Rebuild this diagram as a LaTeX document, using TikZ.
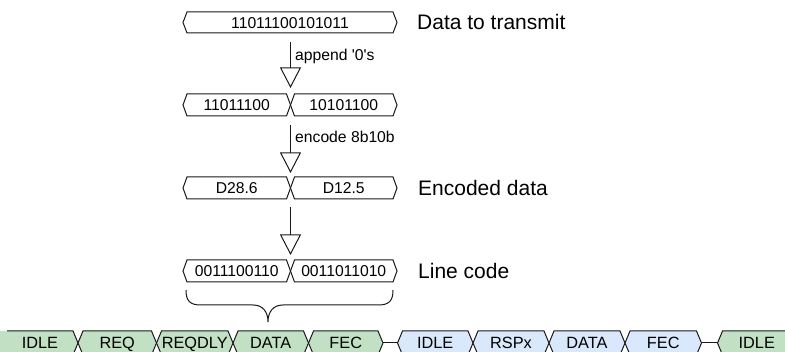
\documentclass[tikz,border=0pt]{standalone}
\usepackage{fontspec}
\setmainfont{Liberation Sans}[Ligatures=TeXOff]
\usetikzlibrary{arrows.meta}
\definecolor{grn}{RGB}{194,224,195}
\definecolor{blu}{RGB}{218,232,252}
\definecolor{ink}{RGB}{25,25,25}
\tikzset{
  boxtext/.style={font=\fontsize{15.7}{18}\selectfont, text height=11.2pt, text depth=0pt, inner sep=0pt, text=black},
  wavetext/.style={font=\fontsize{16.3}{19}\selectfont, text height=11.7pt, text depth=0pt, inner sep=0pt, text=black},
  lbl/.style={font=\fontsize{21}{24}\selectfont, text height=15pt, text depth=0pt, inner sep=0pt, text=black, anchor=west},
  note/.style={font=\fontsize{15.7}{18}\selectfont, inner sep=0pt, text=black, anchor=base west},
  outline/.style={draw=ink, line width=1pt, line join=miter},
  flow/.style={draw=ink, line width=1pt, -{Triangle[open, length=20.5pt, width=21pt]}},
}
% name, x1, x2, yc, half height, slant, fill, style, text
\newcommand\mychev[9]{%
  \filldraw[outline, fill=#7] (#2,#4) -- ({#2+#6},{#4-#5}) -- ({#3-#6},{#4-#5}) -- (#3,#4) -- ({#3-#6},{#4+#5}) -- ({#2+#6},{#4+#5}) -- cycle;
  \coordinate (#1-w) at (#2,#4);
  \coordinate (#1-e) at (#3,#4);
  \node[#8] (#1) at ({(#2+#3)/2},#4) {#9};
}
\begin{document}
\begin{tikzpicture}[x=1pt, y=-1pt]
\useasboundingbox (0,0) rectangle (785,352);
\clip (0,0) rectangle (785,352);

% upper rows
\mychev{r1}{183}{397}{22.5}{10.5}{4}{white}{boxtext}{11011100101011}
\mychev{r2a}{183}{290.5}{105}{11}{4}{white}{boxtext}{11011100}
\mychev{r2b}{290.5}{397}{105}{11}{4}{white}{boxtext}{10101100}
\mychev{r3a}{183}{290.5}{188}{11}{4}{white}{boxtext}{D28.6}
\mychev{r3b}{290.5}{397}{188}{11}{4}{white}{boxtext}{D12.5}
\mychev{r4a}{183}{290.5}{271}{11}{4}{white}{boxtext}{0011100110}
\mychev{r4b}{290.5}{397}{271}{11}{4}{white}{boxtext}{0011011010}

% labels
\node[lbl] (l1) at (417,22.5) {Data to transmit};
\node[lbl] (l3) at (418,188) {Encoded data};
\node[lbl] (l4) at (418,271) {Line code};

% arrows
\coordinate (s1) at (290.5,42);  \coordinate (e1) at (290.5,88);
\coordinate (s2) at (290.5,125); \coordinate (e2) at (290.5,173);
\coordinate (s3) at (290.5,207); \coordinate (e3) at (290.5,255);
\draw[flow] (s1) -- (e1);
\draw[flow] (s2) -- (e2);
\draw[flow] (s3) -- (e3);
\node[note] (n1) at (295,61) {append '0's};
\node[note] (n2) at (295,143) {encode 8b10b};

% brace
\coordinate (bl) at (186,290);
\coordinate (br) at (393,290);
\coordinate (bt) at (268,322);
\draw[ink, line width=1pt]
  (bl) .. controls (186,301) and (190,305) .. (201,305) -- (253,305)
  .. controls (263,305) and (268,312) .. (bt)
  .. controls (268,312) and (273,305) .. (283,305) -- (378,305)
  .. controls (389,305) and (393,301) .. (br);

% bottom row
\fill[grn] (0,331) -- (73,331) -- (78,343) -- (73,355) -- (0,355) -- cycle;
\draw[outline] (7,331) -- (73,331) -- (78,343) -- (73,355) -- (7,355);
\coordinate (g1-e) at (78,343);
\node[wavetext] (g1) at (40,343) {IDLE};
\mychev{g2}{78}{156.5}{343}{12}{5}{grn}{wavetext}{REQ}
\mychev{g3}{156.5}{233}{343}{12}{5}{grn}{wavetext}{REQDLY}
\mychev{g4}{233}{308.5}{343}{12}{5}{grn}{wavetext}{DATA}
\mychev{g5}{308.5}{383}{343}{12}{5}{grn}{wavetext}{FEC}
\mychev{b1}{397.5}{473}{343}{12}{5}{blu}{wavetext}{IDLE}
\mychev{b2}{473}{549}{343}{12}{5}{blu}{wavetext}{RSPx}
\mychev{b3}{549}{625}{343}{12}{5}{blu}{wavetext}{DATA}
\mychev{b4}{625}{701.5}{343}{12}{5}{blu}{wavetext}{FEC}
\mychev{g6}{717.5}{796}{343}{12}{5}{grn}{wavetext}{IDLE}
\draw[outline] (g5-e) -- (b1-w);
\draw[outline] (b4-e) -- (g6-w);
\end{tikzpicture}
\end{document}
